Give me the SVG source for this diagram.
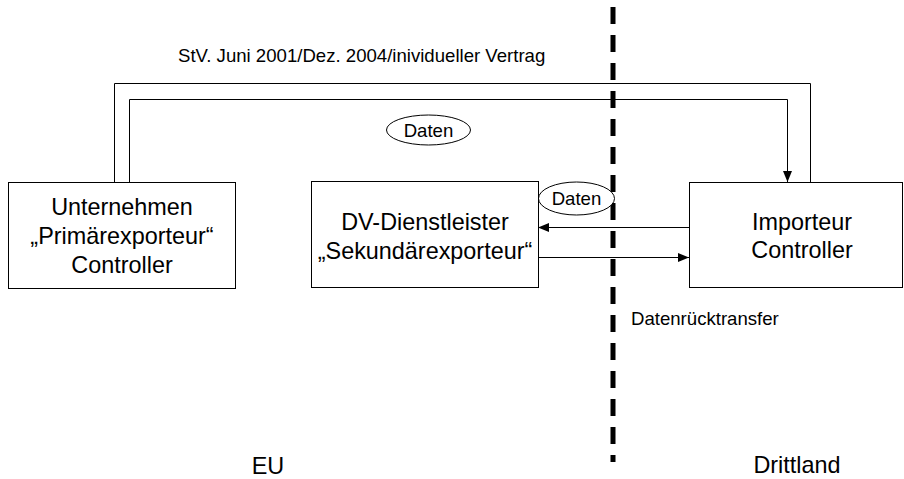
<svg xmlns="http://www.w3.org/2000/svg" width="904" height="479" viewBox="0 0 904 479">
<style>
.box{fill:#fff;stroke:#000;stroke-width:1}
.ln{fill:none;stroke:#000;stroke-width:1}
.big{font-family:"Liberation Sans",Arial,sans-serif;font-size:23.4px;fill:#000;text-anchor:middle}
.sm{font-family:"Liberation Sans",Arial,sans-serif;font-size:18.6px;fill:#000}
</style>
<defs>
<marker id="ah" markerWidth="11" markerHeight="9" refX="11" refY="4.5" orient="auto" markerUnits="userSpaceOnUse">
<path d="M0,0 L11,4.5 L0,9 Z" fill="#000"/>
</marker>
</defs>
<rect width="904" height="479" fill="#fff"/>
<g id="connectors">
<path class="ln" d="M114.5,182 V83.5 H810.5 V182"/>
<path class="ln" d="M129.5,182 V99.5 H787.5 V182" marker-end="url(#ah)"/>
<path class="ln" d="M689,227.5 H538" marker-end="url(#ah)"/>
<path class="ln" d="M538,257.5 H689" marker-end="url(#ah)"/>
</g>
<g id="border">
<line x1="613" y1="7" x2="613" y2="462" stroke="#000" stroke-width="5" stroke-dasharray="17 11"/>
</g>
<g id="label-vertrag">
<text class="sm" x="178" y="62">StV. Juni 2001/Dez. 2004/inividueller Vertrag</text>
</g>
<g id="daten1">
<ellipse cx="428.5" cy="130" rx="42" ry="15" fill="#fff" stroke="#000"/>
<text class="sm" x="428.5" y="136.5" text-anchor="middle">Daten</text>
</g>
<g id="daten2">
<ellipse cx="576.5" cy="198.5" rx="38" ry="16.5" fill="#fff" stroke="#000"/>
<text class="sm" x="576.5" y="204.5" text-anchor="middle">Daten</text>
</g>
<g id="unternehmen">
<rect class="box" x="8.5" y="182.5" width="227" height="106"/>
<text class="big" x="122" y="215">Unternehmen</text>
<text class="big" x="122" y="244">„Primärexporteur“</text>
<text class="big" x="122" y="273">Controller</text>
</g>
<g id="dienstleister">
<rect class="box" x="311.5" y="181.5" width="227" height="106"/>
<text class="big" x="425" y="230">DV-Dienstleister</text>
<text class="big" x="425" y="259">„Sekundärexporteur“</text>
</g>
<g id="importeur">
<rect class="box" x="689.5" y="182.5" width="213" height="105"/>
<text class="big" x="802" y="230">Importeur</text>
<text class="big" x="802" y="258">Controller</text>
</g>
<g id="labels">
<text class="sm" x="631" y="325">Datenrücktransfer</text>
<text class="big" x="268" y="474">EU</text>
<text class="big" x="797" y="473">Drittland</text>
</g>
</svg>
